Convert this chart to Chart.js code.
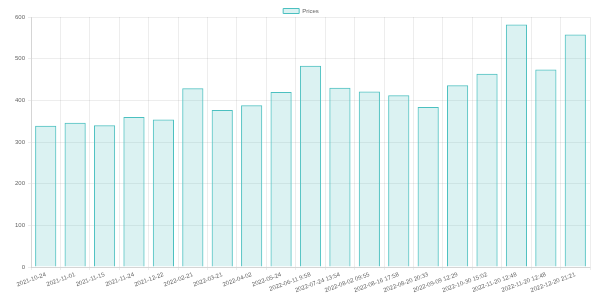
<!DOCTYPE html>
<html>
<head>
<meta charset="utf-8">
<script src="https://cdn.jsdelivr.net/npm/chart.js@4"></script>
<style>
  html, body { margin: 0; padding: 0; background: #fff; }
  #wrap { width: 600px; height: 300px; }
</style>
</head>
<body>
<div id="wrap"><canvas id="pricesChart" width="600" height="300"></canvas></div>
<script>
// Даты замеров (ось X)
const labels = [
  '2021-10-24', '2021-11-01', '2021-11-15', '2021-11-24', '2021-12-22',
  '2022-02-21', '2022-03-21', '2022-04-02', '2022-05-24', '2022-06-11 9:58',
  '2022-07-24 13:54', '2022-08-02 09:55', '2022-08-16 17:58', '2022-08-20 20:33',
  '2022-09-09 12:29', '2022-10-30 15:02', '2022-11-20 12:48', '2022-11-20 12:48',
  '2022-12-20 21:21'
];
// Цены
const prices = [339, 346, 340, 360, 354, 429, 377, 388, 420, 483, 430, 421, 412, 384, 436, 464, 582, 474, 558];
// Деления оси Y
const yTicks = [0, 100, 200, 300, 400, 500, 600];

const ctx = document.getElementById('pricesChart').getContext('2d');
const pricesChart = new Chart(ctx, {
  type: 'bar',
  data: {
    labels: labels,
    datasets: [
      {
        label: 'Prices',
        data: prices,
        backgroundColor: 'rgba(75, 192, 192, 0.2)',
        borderColor: 'rgba(75, 192, 192, 1)',
        borderWidth: 1
      }
    ]
  },
  options: {
    responsive: false,
    devicePixelRatio: 1,
    animation: false,
    layout: {
      padding: { left: 12, right: 10, top: 3, bottom: 5 }
    },
    plugins: {
      legend: {
        display: true,
        maxHeight: 14,
        labels: {
          boxWidth: 16,
          boxHeight: 5,
          padding: 5,
          color: '#666',
          font: { size: 6, family: 'Liberation Sans' }
        }
      },
      tooltip: { enabled: false }
    },
    scales: {
      x: {
        grid: {
          color: 'rgba(0, 0, 0, 0.07)',
          tickLength: 3
        },
        ticks: {
          color: '#666',
          font: { size: 6, family: 'Liberation Sans' },
          autoSkip: false,
          maxRotation: 20,
          minRotation: 20,
          padding: 1
        }
      },
      y: {
        min: yTicks[0],
        max: yTicks[yTicks.length - 1],
        afterBuildTicks: (axis) => { axis.ticks = yTicks.map(v => ({ value: v })); },
        grid: {
          color: 'rgba(0, 0, 0, 0.07)',
          tickLength: 3
        },
        ticks: {
          color: '#666',
          font: { size: 6, family: 'Liberation Sans' },
          padding: 3
        }
      }
    }
  }
});
</script>
</body>
</html>
